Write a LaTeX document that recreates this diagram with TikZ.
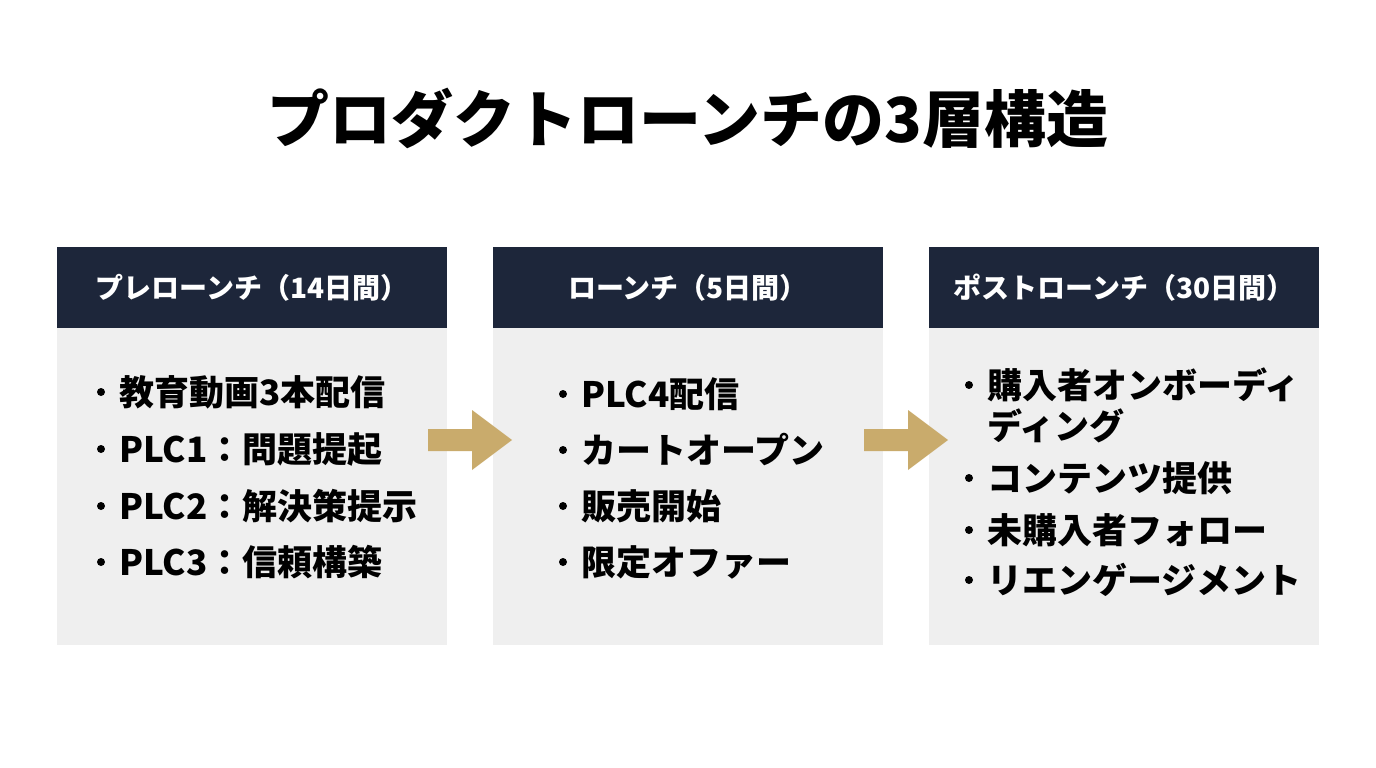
\documentclass[tikz,border=0pt]{standalone}
\usepackage{fontspec}
\setmainfont{Noto Sans CJK JP}
\definecolor{navy}{HTML}{1D263A}
\definecolor{panel}{HTML}{EFEFEF}
\definecolor{gold}{HTML}{C9AB6C}
\begin{document}
\begin{tikzpicture}[x=1pt,y=-1pt,
  hdr/.style={fill=navy,draw=none,minimum width=390pt,minimum height=81pt,inner sep=0pt,text=white,font=\fontsize{28}{30}\selectfont\bfseries},
  body/.style={fill=panel,draw=none,minimum width=390pt,minimum height=317pt,inner sep=0pt},
  item/.style={anchor=west,inner sep=0pt,font=\fontsize{35}{40}\selectfont\bfseries},
  dot/.style={circle,fill=black,inner sep=0pt,minimum size=8pt},
  arr/.style={fill=gold,draw=none}]
\fill[white] (0,0) rectangle (1376,768);
\useasboundingbox (0,0) rectangle (1376,768);
\node (title) at (688,118) {\fontsize{62}{66}\selectfont\bfseries プロダクトローンチの3層構造};
\node[body] (b1) at (252,486.5) {};
\node[hdr] (h1) at (252,287.5) {プレローンチ（14日間）};
\node[body] (b2) at (688,486.5) {};
\node[hdr] (h2) at (688,287.5) {ローンチ（5日間）};
\node[body] (b3) at (1124,486.5) {};
\node[hdr] (h3) at (1124,287.5) {ポストローンチ（30日間）};
\coordinate (a1) at (428,440);
\coordinate (a2) at (864,440);
\foreach \a in {a1,a2}{
  \fill[arr] ([shift={(0,-11)}]\a) -- ++(44,0) -- ++(0,-19) -- ++(40,30) -- ++(-40,30) -- ++(0,-19) -- ++(-44,0) -- cycle;
}
\foreach \t/\y [count=\i] in {教育動画3本配信/392, PLC1：問題提起/449, PLC2：解決策提示/506, PLC3：信頼構築/562}{
  \node[dot] (d1\i) at (101,\y) {};
  \node[item] (t1\i) at (119,\y) {\t};
}
\foreach \t/\y [count=\i] in {PLC4配信/394, カートオープン/450, 販売開始/506, 限定オファー/562}{
  \node[dot] (d2\i) at (563,\y) {};
  \node[item] (t2\i) at (581,\y) {\t};
}
\node[dot] (d31) at (969,385) {};
\node[item] (t31) at (987,385) {購入者オンボーディ};
\node[item] (t31b) at (987,426) {ディング};
\foreach \t/\y [count=\i from 2] in {コンテンツ提供/478, 未購入者フォロー/530, リエンゲージメント/580}{
  \node[dot] (d3\i) at (969,\y) {};
  \node[item] (t3\i) at (987,\y) {\t};
}
\end{tikzpicture}
\end{document}
